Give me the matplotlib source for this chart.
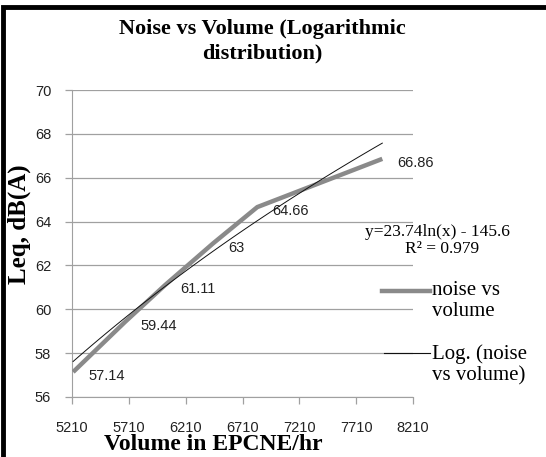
import matplotlib
matplotlib.use("Agg")
import matplotlib.pyplot as plt
from matplotlib.lines import Line2D
from matplotlib.patches import Rectangle
import numpy as np

# data
volume = [5220, 5680, 6030, 6450, 6840, 7940]
noise = [57.14, 59.44, 61.11, 63.00, 64.66, 66.86]
labels = ["57.14", "59.44", "61.11", "63", "64.66", "66.86"]
trend_a, trend_b = 23.74, -145.6   # y = a ln(x) + b
r2 = 0.979
xticks = [5210, 5710, 6210, 6710, 7210, 7710, 8210]
yticks = [56, 58, 60, 62, 64, 66, 68, 70]

serif = "Liberation Serif"
sans = "Liberation Sans"

fig = plt.figure(figsize=(5.46, 4.57), dpi=100)
ax = fig.add_axes([72 / 546, 1 - 397 / 457, 341 / 546, 307 / 457])

grid_c = "#a0a0a0"
ax.plot(volume, noise, color="#8a8a8a", lw=3.2, solid_capstyle="butt", zorder=3)
tx = np.linspace(volume[0], volume[-1], 100)
ax.plot(tx, trend_a * np.log(tx) + trend_b, color="#111111", lw=0.7, zorder=4)

for x, y, s in zip(volume, noise, labels):
    ax.annotate(s, (x, y), xytext=(11, -3), textcoords="offset points",
                ha="left", va="center", fontsize=10.5, family=sans, color="#222222")

ax.set_xlim(5210, 8210)
ax.set_ylim(56, 70)
ax.set_xticks(xticks)
ax.set_yticks(yticks)
ax.set_xticklabels([str(t) for t in xticks], family=sans, fontsize=10.5)
ax.set_yticklabels([str(t) for t in yticks], family=sans, fontsize=10.5)
ax.yaxis.grid(True, color=grid_c, lw=0.9)
ax.set_axisbelow(True)
for side in ["top", "right"]:
    ax.spines[side].set_visible(False)
for side in ["left", "bottom"]:
    ax.spines[side].set_color(grid_c)
ax.tick_params(axis="both", colors=grid_c, labelcolor="#222222", length=5, width=0.9)
ax.tick_params(axis="x", pad=12)
ax.tick_params(axis="y", pad=10)

fig.text(0.48, 0.91, "Noise vs Volume (Logarithmic\ndistribution)", ha="center", va="center",
         fontsize=16, fontweight="bold", family=serif, linespacing=1.3)
fig.text(0.036, 0.51, "Leq, dB(A)", rotation=90, ha="center", va="center",
         fontsize=18, fontweight="bold", family=serif)
fig.text(0.39, 0.028, "Volume in EPCNE/hr", ha="center", va="center",
         fontsize=17, fontweight="bold", family=serif)

fig.text(365 / 546, 0.492, f"y={trend_a}ln(x) - {abs(trend_b)}", ha="left", va="center",
         fontsize=12.5, family=serif)
fig.text(0.81, 0.455, f"R² = {r2}", ha="center", va="center", fontsize=12.5, family=serif)

# legend
fig.add_artist(Line2D([382 / 546, 430 / 546], [1 - 291 / 457] * 2, color="#8a8a8a", lw=3.2,
                      transform=fig.transFigure))
fig.add_artist(Line2D([384 / 546, 430 / 546], [1 - 353 / 457] * 2, color="#111111", lw=0.8,
                      transform=fig.transFigure))
fig.text(432 / 546, 1 - 301 / 457, "noise vs\nvolume", ha="left", va="center",
         fontsize=15, family=serif, linespacing=1.15)
fig.text(432 / 546, 1 - 365 / 457, "Log. (noise\nvs volume)", ha="left", va="center",
         fontsize=15, family=serif, linespacing=1.15)

fig.add_artist(Rectangle((3 / 546, -0.05), 1.2, 1 - 7 / 457 + 0.05, fill=False,
                         edgecolor="black", lw=3.5, transform=fig.transFigure))

fig.savefig("out.png", dpi=100)
